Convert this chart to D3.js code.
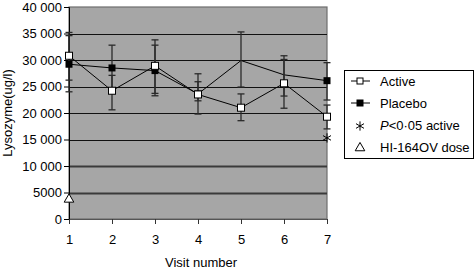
<!DOCTYPE html>
<html>
<head>
<meta charset="utf-8">
<script src="https://cdn.jsdelivr.net/npm/d3@7"></script>
<style>
  body { margin: 0; background: #fff; }
  svg { display: block; font-family: "Liberation Sans", Arial, sans-serif; }
</style>
</head>
<body>
<div id="chart"></div>
<script>
// Visits and series values
const visits = [1, 2, 3, 4, 5, 6, 7];
const activeMean = [30800, 24200, 28900, 23500, 21000, 25600, 19300];
const activeLow = [26200, 20600, 23700, 19800, 18550, 20900, 17000];
const activeHigh = [35200, 27100, 33800, 27400, 23600, 30100, 21500];
const placeboMean = [29200, 28500, 28000, 23600, 29900, 27200, 26100];
const placeboLow = [24000, 24300, 23250, 22300, 24900, 23200, 22450];
const placeboHigh = [34600, 32800, 32800, 25900, 35300, 30800, 29500];
const placeboMarker = [true, true, true, true, false, false, true];
const significant = [{ visit: 7, value: 15300 }];
const doseMarks = [{ visit: 1, value: 3700 }];
const yTicks = [0, 5000, 10000, 15000, 20000, 25000, 30000, 35000, 40000];
const yTickLabels = ["0", "5000", "10 000", "15 000", "20 000", "25 000", "30 000", "35 000", "40 000"];
const legendItems = ["Active", "Placebo", "P<0·05 active", "HI-164OV dose"];

const width = 475;
const height = 271;
const margin = { top: 7, right: 148, bottom: 52, left: 69 };

const svg = d3.select("#chart")
  .append("svg")
  .attr("width", width)
  .attr("height", height)
  .attr("viewBox", [0, 0, width, height]);

const x = d3.scaleLinear()
  .domain(d3.extent(visits))
  .range([margin.left, width - margin.right]);

const y = d3.scaleLinear()
  .domain([0, 40000])
  .range([height - margin.bottom, margin.top]);

// plot background
svg.append("rect")
  .attr("x", x(1))
  .attr("y", y(40000))
  .attr("width", x(7) - x(1))
  .attr("height", y(0) - y(40000))
  .attr("fill", "#a6a6a6")
  .attr("stroke", "#6e6e6e")
  .attr("stroke-width", 1.2);

// gridlines (lower two look darker/thicker in the original)
svg.append("g")
  .selectAll("line")
  .data(yTicks.filter((d) => d > 0 && d < 40000))
  .join("line")
  .attr("x1", x(1))
  .attr("x2", x(7))
  .attr("y1", (d) => Math.round(y(d)) + 0.5)
  .attr("y2", (d) => Math.round(y(d)) + 0.5)
  .attr("stroke", (d) => (d <= 10000 ? "#3a3a3a" : "#111"))
  .attr("stroke-width", (d) => (d <= 10000 ? 2 : 1));

// axes
const yAxis = svg.append("g")
  .attr("transform", `translate(${x(1)},0)`)
  .call(d3.axisLeft(y)
    .tickValues(yTicks)
    .tickFormat((d, i) => yTickLabels[i])
    .tickSize(5)
    .tickPadding(2));
yAxis.select(".domain").attr("stroke", "#000");
yAxis.selectAll("text").attr("font-size", 13).attr("fill", "#000");

const xAxis = svg.append("g")
  .attr("transform", `translate(0,${y(0)})`)
  .call(d3.axisBottom(x)
    .tickValues(visits)
    .tickFormat(d3.format("d"))
    .tickSize(5)
    .tickPadding(11));
xAxis.select(".domain").attr("stroke", "#555");
xAxis.selectAll(".tick line").attr("stroke", "#333");
xAxis.selectAll("text").attr("font-size", 13).attr("fill", "#000");

// axis titles
svg.append("text")
  .attr("x", (x(1) + x(7)) / 2 + 3)
  .attr("y", 267)
  .attr("text-anchor", "middle")
  .attr("font-size", 13)
  .text("Visit number");

svg.append("text")
  .attr("transform", `translate(12,${(y(0) + y(40000)) / 2}) rotate(-90)`)
  .attr("text-anchor", "middle")
  .attr("font-size", 13)
  .text("Lysozyme(ug/l)");

// series lines
const line = (values) => d3.line()
  .x((d, i) => x(visits[i]))
  .y((d) => y(d))(values);

svg.append("path")
  .attr("d", line(placeboMean))
  .attr("fill", "none")
  .attr("stroke", "#000")
  .attr("stroke-width", 1);

svg.append("path")
  .attr("d", line(activeMean))
  .attr("fill", "none")
  .attr("stroke", "#000")
  .attr("stroke-width", 1);

// error bars
const capW = 7;
const errors = visits.flatMap((v, i) => [
  { visit: v, low: activeLow[i], high: activeHigh[i] },
  { visit: v, low: placeboLow[i], high: placeboHigh[i] },
]);

const eb = svg.append("g")
  .attr("stroke", "#2a2a2a")
  .attr("stroke-width", 1.3);

eb.selectAll("line.bar")
  .data(errors)
  .join("line")
  .attr("class", "bar")
  .attr("x1", (d) => x(d.visit))
  .attr("x2", (d) => x(d.visit))
  .attr("y1", (d) => y(d.low))
  .attr("y2", (d) => y(d.high));

eb.selectAll("line.cap")
  .data(errors.flatMap((d) => [{ visit: d.visit, v: d.low }, { visit: d.visit, v: d.high }]))
  .join("line")
  .attr("class", "cap")
  .attr("x1", (d) => x(d.visit) - capW / 2)
  .attr("x2", (d) => x(d.visit) + capW / 2)
  .attr("y1", (d) => y(d.v))
  .attr("y2", (d) => y(d.v));

// markers
const sq = 7;
svg.append("g")
  .selectAll("rect")
  .data(placeboMean.map((v, i) => ({ visit: visits[i], v })).filter((d, i) => placeboMarker[i]))
  .join("rect")
  .attr("x", (d) => x(d.visit) - sq / 2)
  .attr("y", (d) => y(d.v) - sq / 2)
  .attr("width", sq)
  .attr("height", sq)
  .attr("fill", "#000");

svg.append("g")
  .selectAll("rect")
  .data(activeMean.map((v, i) => ({ visit: visits[i], v })))
  .join("rect")
  .attr("x", (d) => x(d.visit) - sq / 2)
  .attr("y", (d) => y(d.v) - sq / 2)
  .attr("width", sq)
  .attr("height", sq)
  .attr("fill", "#fff")
  .attr("stroke", "#000")
  .attr("stroke-width", 1);

const asterisk = d3.symbol().type(d3.symbolAsterisk).size(60);
const triangle = d3.symbol().type(d3.symbolTriangle).size(40);

svg.append("g")
  .selectAll("path")
  .data(significant)
  .join("path")
  .attr("transform", (d) => `translate(${x(d.visit)},${y(d.value)})`)
  .attr("d", asterisk)
  .attr("fill", "none")
  .attr("stroke", "#000")
  .attr("stroke-width", 1);

svg.append("g")
  .selectAll("path")
  .data(doseMarks)
  .join("path")
  .attr("transform", (d) => `translate(${x(d.visit)},${y(d.value)})`)
  .attr("d", triangle)
  .attr("fill", "#fff")
  .attr("stroke", "#000")
  .attr("stroke-width", 1);

// legend
const legend = svg.append("g").attr("transform", "translate(344,70)");
legend.append("rect")
  .attr("x", 0.5)
  .attr("y", 0.5)
  .attr("width", 129)
  .attr("height", 88)
  .attr("fill", "#fff")
  .attr("stroke", "#000");

const rows = legend.selectAll("g.row")
  .data(legendItems)
  .join("g")
  .attr("class", "row")
  .attr("transform", (d, i) => `translate(0,${11 + i * 22})`);

rows.filter((d, i) => i < 2)
  .append("line")
  .attr("x1", 7)
  .attr("x2", 26)
  .attr("stroke", "#000");

rows.each(function (d, i) {
  const g = d3.select(this);
  if (i === 0) {
    g.append("rect").attr("x", 13).attr("y", -3).attr("width", 6).attr("height", 6)
      .attr("fill", "#fff").attr("stroke", "#000");
  } else if (i === 1) {
    g.append("rect").attr("x", 12.5).attr("y", -3.5).attr("width", 7).attr("height", 7)
      .attr("fill", "#000");
  } else if (i === 2) {
    g.append("path").attr("transform", "translate(16,1)").attr("d", asterisk)
      .attr("fill", "none").attr("stroke", "#000");
  } else {
    g.append("path").attr("transform", "translate(16,1)").attr("d", triangle)
      .attr("fill", "#fff").attr("stroke", "#000");
  }
  const t = g.append("text").attr("x", 36).attr("y", 4.5).attr("font-size", 13);
  if (i === 2) {
    t.append("tspan").attr("font-style", "italic").text(d.slice(0, 1));
    t.append("tspan").text(d.slice(1));
  } else {
    t.text(d);
  }
});
</script>
</body>
</html>
